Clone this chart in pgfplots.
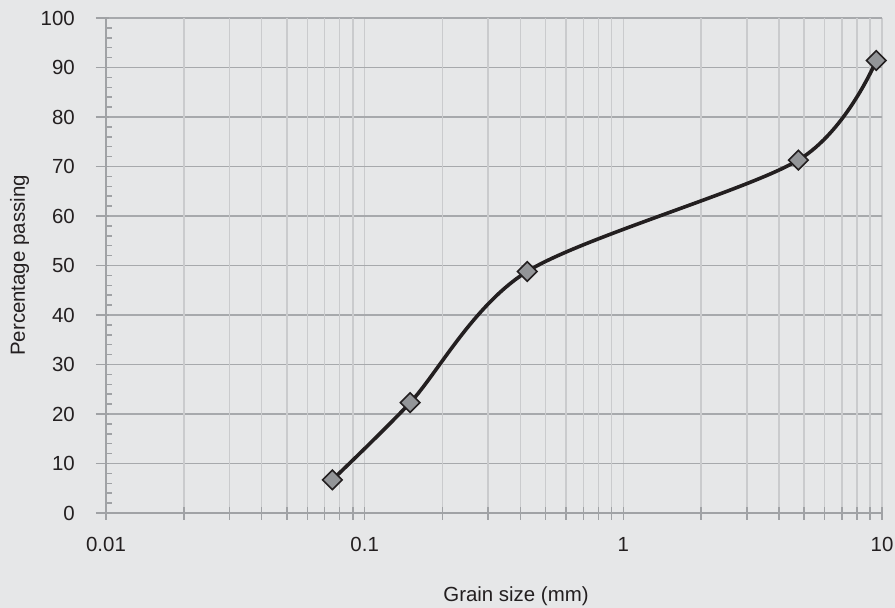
\documentclass[border=0pt]{standalone}
\usepackage{fontspec}
\setmainfont{Liberation Sans}
\usepackage{pgfplots}
\pgfplotsset{compat=1.18}
\definecolor{bg}{HTML}{E6E7E8}
\definecolor{hgrid}{HTML}{A7A9AC}
\definecolor{vgrid}{HTML}{CACBCD}
\definecolor{axline}{HTML}{A0A2A5}
\definecolor{txt}{HTML}{231F20}
\definecolor{mk}{HTML}{939598}
\begin{document}
\begin{tikzpicture}
\fill[bg] (-106bp,-95bp) rectangle (789bp,513bp);
\begin{axis}[
  at={(0,0)}, anchor=south west,
  scale only axis, width=776bp, height=495bp,
  xmode=log, xmin=0.01, xmax=10, ymin=0, ymax=100,
  clip=false,
  axis lines*=left,
  axis line style={color=axline, line width=1.8bp},
  font=\fontsize{20.5}{24}\selectfont,
  xtick={0.01,0.1,1,10},
  xticklabels={0.01,0.1,1,10},
  xminorticks=false,
  extra x ticks={0.02,0.03,0.04,0.05,0.06,0.07,0.08,0.09,0.2,0.3,0.4,0.5,0.6,0.7,0.8,0.9,2,3,4,5,6,7,8,9},
  extra x tick labels={},
  extra x tick style={grid=major},
  ytick={0,10,20,30,40,50,60,70,80,90,100},
  yticklabels={0,10,20,30,40,50,60,70,80,90,100},
  minor y tick num=4,
  xmajorgrids, ymajorgrids,
  major x grid style={color=vgrid, line width=1.5bp},
  major y grid style={color=hgrid, line width=1.6bp},
  tick align=inside,
  major tick length=13bp,
  minor tick length=6.5bp,
  tick style={color=axline, line width=1.5bp},
  major x tick style={yshift=-6.5bp},
  major y tick style={xshift=-10bp},
  xticklabel style={anchor=north, inner sep=0pt, yshift=-24bp, text=txt},
  yticklabel style={anchor=east, inner sep=0pt, xshift=-31bp, text=txt},
  xlabel={Grain size (mm)},
  ylabel={Percentage passing},
  every axis x label/.style={at={(axis description cs:0.5,0)}, anchor=north, inner sep=0pt, yshift=-73bp, xshift=22bp, text=txt},
  every axis y label/.style={at={(axis description cs:0,0.5)}, rotate=90, anchor=north, inner sep=0pt, yshift=96bp, text=txt},
]
\addplot[color=txt, line width=3.6bp, smooth, tension=0.5,
  mark=square*, mark size=6.9bp,
  mark options={rotate=45, fill=mk, draw=txt, line width=1.6bp, solid}]
  coordinates {
  (0.075,6.7)
  (0.15,22.3)
  (0.425,48.8)
  (4.75,71.3)
  (9.5,91.4)
  };
\end{axis}
\pgfresetboundingbox
\path (-106bp,-95bp) rectangle (789bp,513bp);
\end{tikzpicture}
\end{document}
